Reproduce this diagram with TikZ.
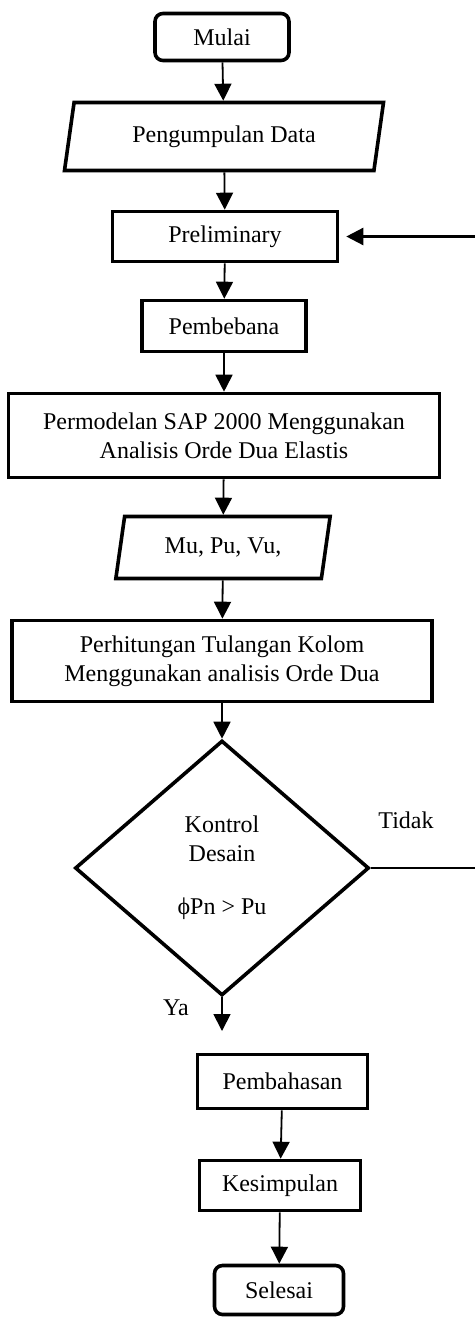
\documentclass[tikz,border=0pt]{standalone}
\usepackage{fontspec}
\setmainfont{Liberation Serif}
\usetikzlibrary{shapes.geometric,arrows.meta}

\begin{document}
\begin{tikzpicture}[x=0.5pt, y=-0.5pt,
		every node/.style={font=\fontsize{12}{14.5}\selectfont, align=center, inner sep=0pt},
		terminal/.style={draw, line width=1.8pt, rounded corners=4pt},
		proses/.style={draw, line width=1.8pt, rectangle},
		masukan/.style={draw, line width=1.8pt, trapezium, trapezium left angle=75,
					trapezium right angle=105, trapezium stretches=true},
		keputusan/.style={draw, line width=1.8pt, diamond},
		panah/.style={-{Triangle[width=8.5pt,length=8.5pt]}, line width=0.9pt}]
		\useasboundingbox (0,0) rectangle (475,1318);

		\node[terminal, minimum width=67pt, minimum height=23.5pt] (mulai) at (222,37) {Mulai};
		\node[masukan, minimum width=160.5pt, minimum height=34pt] (data) at (224,136.5) {Pengumpulan Data};
		\node[proses, minimum width=112.5pt, minimum height=25pt] (prelim) at (225,236.5) {Preliminary};
		\node[proses, minimum width=82pt, minimum height=25.5pt] (beban) at (224,326) {Pembebana};
		\node[proses, minimum width=215.5pt, minimum height=42pt] (model) at (224,435.5) {Permodelan SAP 2000 Menggunakan\\Analisis Orde Dua Elastis};
		\node[masukan, minimum width=107.5pt, minimum height=31pt] (gaya) at (223,547.5) {Mu, Pu, Vu,};
		\node[proses, minimum width=210pt, minimum height=40.5pt] (hitung) at (222,661) {Perhitungan Tulangan Kolom\\Menggunakan analisis Orde Dua};
		\node[keputusan, minimum width=147pt, minimum height=127.5pt] (kontrol) at (222,868) {Kontrol\\Desain\\[12pt]ϕPn > Pu};
		\node[proses, minimum width=85pt, minimum height=27pt] (bahas) at (282.5,1081.5) {Pembahasan};
		\node[proses, minimum width=80.5pt, minimum height=25pt] (simpul) at (280,1185.5) {Kesimpulan};
		\node[terminal, minimum width=64.5pt, minimum height=24.5pt] (selesai) at (279,1290) {Selesai};

		\node (tidak) at (406,820) {Tidak};
		\node (ya) at (176,1008) {Ya};
		\coordinate (yaujung) at (222,1031);
		\coordinate (belok) at (479,868);

		\draw[panah] (mulai) -- (data);
		\draw[panah] (data) -- (prelim);
		\draw[panah] (prelim) -- (beban);
		\draw[panah] (beban) -- (model);
		\draw[panah] (model) -- (gaya);
		\draw[panah] (gaya) -- (hitung);
		\draw[panah] (hitung) -- (kontrol);
		\draw[panah] (kontrol) -- (yaujung);
		\draw[panah] (bahas) -- (simpul);
		\draw[panah] (simpul) -- (selesai);
		\draw[panah, line width=1.2pt, shorten >=3.5pt] (kontrol.east) -- (belok) |- (prelim.east);
	\end{tikzpicture}
\end{document}
